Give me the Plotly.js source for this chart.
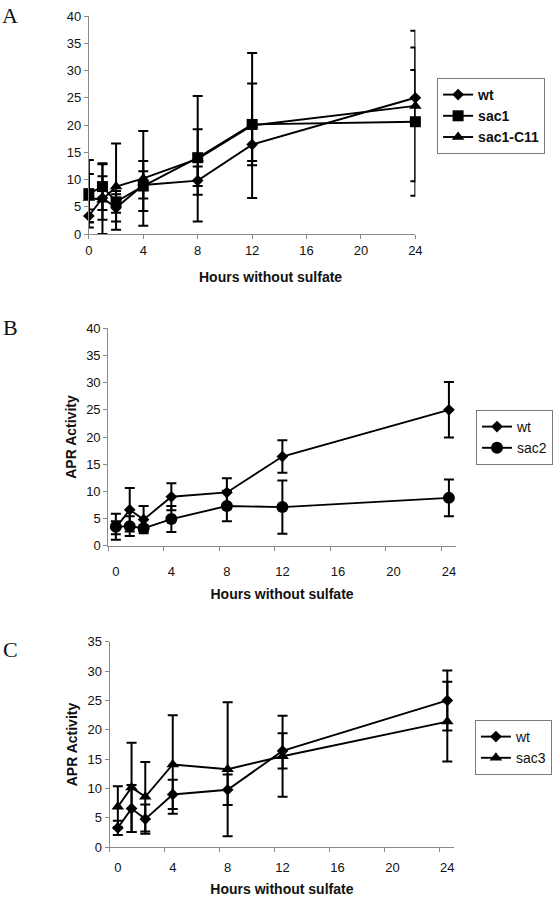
<!DOCTYPE html>
<html><head><meta charset="utf-8">
<script src="https://cdn.plot.ly/plotly-3.0.1.min.js"></script>
<style>html,body{margin:0;padding:0;background:#fff}#chart{width:553px;height:900px}</style>
</head><body><div id="chart"></div>
<script>
// ---- data ----
const hours = [0, 1, 2, 4, 8, 12, 24];
const hourTicks = [0, 4, 8, 12, 16, 20, 24];
const hourTickLabels = ['0', '4', '8', '12', '16', '20', '24'];

const wt = [3.3, 6.6, 4.8, 9.0, 9.8, 16.4, 25.0];
const wtErr = [1.2, 4.0, 2.5, 2.5, 2.6, 3.0, 5.1];
const sac1 = [7.4, 8.7, 5.9, 8.8, 14.0, 20.1, 20.6];
const sac1Err = [6.2, 4.3, 2.0, 4.6, 5.2, 7.5, 13.6];
const sac1C11 = [6.6, 6.3, 8.7, 10.2, 13.8, 19.9, 23.5];
const sac1C11Err = [4.4, 6.5, 7.9, 8.7, 11.5, 13.3, 13.8];
const sac2 = [3.5, 3.6, 3.2, 4.9, 7.3, 7.1, 8.8];
const sac2Err = [2.4, 1.8, 0.6, 2.4, 2.8, 4.9, 3.4];
const sac3 = [6.9, 10.2, 8.6, 14.1, 13.3, 15.5, 21.4];
const sac3Err = [3.5, 7.6, 5.9, 8.4, 11.4, 6.9, 6.8];

const xTitle = 'Hours without sulfate';
const yTitle = 'APR Activity';

// ---- styling ----
const FONT = 'Liberation Sans, Arial, sans-serif';
const AXC = '#8a8a8a';
const W = 553, H = 900;
const px = v => v / W;
const py = v => 1 - v / H;

function trace(y, err, name, symbol, size, xa, ya, legend) {
  return {
    type: 'scatter', mode: 'lines+markers', x: hours, y: y, name: name,
    xaxis: xa, yaxis: ya, legend: legend, cliponaxis: false,
    line: {color: '#000', width: 1.9},
    marker: {symbol: symbol, size: size, color: '#000', line: {width: 0}},
    error_y: {type: 'data', symmetric: false, array: err,
      arrayminus: err.map((e, i) => Math.min(e, y[i])),
      color: '#000', thickness: 2, width: 5}
  };
}

const data = [
  trace(wt, wtErr, 'wt', 'diamond', 9, 'x', 'y', 'legend'),
  trace(sac1, sac1Err, 'sac1', 'square', 11, 'x', 'y', 'legend'),
  trace(sac1C11, sac1C11Err, 'sac1-C11', 'triangle-up', 11, 'x', 'y', 'legend'),
  trace(wt, wtErr, 'wt', 'diamond', 9, 'x2', 'y2', 'legend2'),
  trace(sac2, sac2Err, 'sac2', 'circle', 12, 'x2', 'y2', 'legend2'),
  trace(wt, wtErr, 'wt', 'diamond', 9, 'x3', 'y3', 'legend3'),
  trace(sac3, sac3Err, 'sac3', 'triangle-up', 11, 'x3', 'y3', 'legend3')
];

const tickFont = {family: FONT, size: 13, color: '#111'};
const titleFont = {family: FONT, size: 14, color: '#111', weight: 'bold'};

function xAxis(domain, range, anchor, shiftH, title, labStand) {
  const a = {
    domain: domain, range: range, anchor: anchor,
    tickmode: 'array', tickvals: hourTicks, ticktext: hourTickLabels,
    showline: true, linecolor: AXC, linewidth: 1,
    showgrid: false, zeroline: false, tickfont: tickFont, fixedrange: true,
    ticklabelstandoff: labStand
  };
  if (shiftH) {
    a.ticks = '';
    a.minor = {tickmode: 'array', tickvals: hourTicks.map(h => h - shiftH),
      ticks: 'outside', ticklen: 4, tickwidth: 1, tickcolor: AXC, showgrid: false};
  } else {
    a.ticks = 'outside'; a.ticklen = 4; a.tickwidth = 1; a.tickcolor = AXC;
  }
  if (title) a.title = {text: title, font: titleFont, standoff: 10};
  return a;
}
function yAxis(domain, range, anchor, title) {
  const a = {
    domain: domain, range: range, anchor: anchor, dtick: 5, tick0: 0,
    ticks: 'outside', ticklen: 4, tickwidth: 1, tickcolor: AXC,
    showline: true, linecolor: AXC, linewidth: 1,
    showgrid: false, zeroline: false, tickfont: tickFont, fixedrange: true
  };
  if (title) a.title = {text: title, font: titleFont, standoff: 6};
  return a;
}

function legendBox(x, y, bold) {
  return {
    x: x, y: y, xanchor: 'left', yanchor: 'top',
    bordercolor: '#7a7a7a', borderwidth: 1, bgcolor: '#fff',
    font: {family: FONT, size: 14, color: '#111', weight: bold ? 'bold' : 'normal'},
    itemclick: false, itemdoubleclick: false, tracegroupgap: 0
  };
}

const letterFont = {family: 'Liberation Serif, Times New Roman, serif', size: 22, color: '#111'};

const layout = {
  width: W, height: H, margin: {l: 0, r: 0, t: 0, b: 0},
  paper_bgcolor: '#fff', plot_bgcolor: '#fff', showlegend: true,
  xaxis: xAxis([px(90), px(420.7)], [0, 24], 'y', 0, null, 0),
  yaxis: yAxis([py(234), py(16)], [0, 40], 'x', null),
  xaxis2: xAxis([px(109.6), px(461.7)], [-0.55, 24.5], 'y2', 0.55, xTitle, 14),
  yaxis2: yAxis([py(545.7), py(328.3)], [0, 40], 'x2', yTitle),
  xaxis3: xAxis([px(111), px(460)], [-0.6, 24.5], 'y3', 0.6, xTitle, 8),
  yaxis3: yAxis([py(847.3), py(641.7)], [0, 35], 'x3', yTitle),
  legend: legendBox(px(442.7), py(78), true),
  legend2: legendBox(px(482.3), py(410), false),
  legend3: legendBox(px(481), py(720), false),
  annotations: [
    {text: 'A', x: 0, y: py(15.5), xref: 'paper', yref: 'paper', xanchor: 'left', yanchor: 'middle', showarrow: false, font: letterFont},
    {text: 'B', x: px(1), y: py(327.5), xref: 'paper', yref: 'paper', xanchor: 'left', yanchor: 'middle', showarrow: false, font: letterFont},
    {text: 'C', x: px(1), y: py(649), xref: 'paper', yref: 'paper', xanchor: 'left', yanchor: 'middle', showarrow: false, font: letterFont},
    {text: xTitle, x: px(274), y: py(277), xref: 'paper', yref: 'paper', xanchor: 'center', yanchor: 'middle', showarrow: false, font: titleFont}
  ]
};

Plotly.newPlot('chart', data, layout, {displayModeBar: false, staticPlot: true});
</script>
</body></html>
